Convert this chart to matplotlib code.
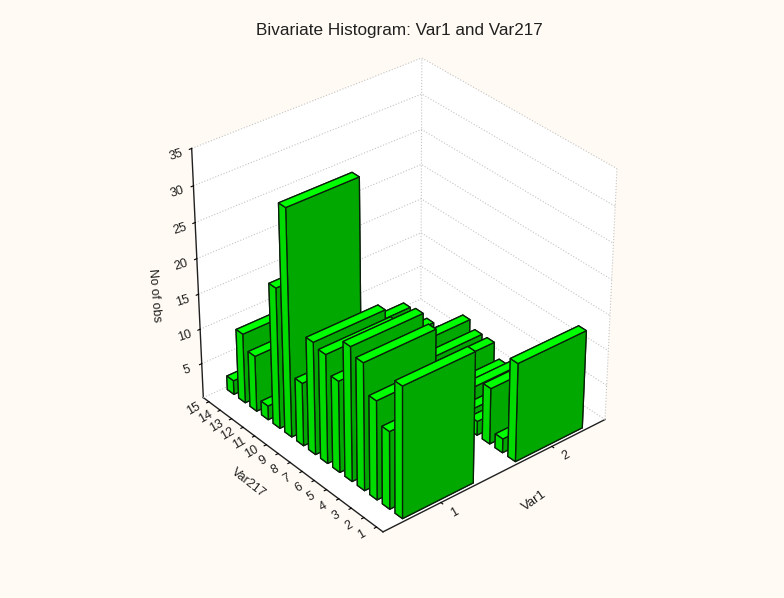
import matplotlib
matplotlib.use('Agg')
import matplotlib.pyplot as plt
from mpl_toolkits.mplot3d import proj3d

BG = '#FFFAF3'
GRID = '#c4c4c4'
INK = '#202020'
FONT = 'Liberation Sans'

var217 = list(range(1, 16))
var1_levels = [1, 2]
# counts per Var217 class
counts_var1_1 = [18.5, 11, 14, 18, 19, 13, 15.5, 16, 9, 32, 20, 2, 8, 10, 2]
counts_var1_2 = [14, 2, 8, 2, 2, 3, 2, 4, 4, 5, 2, 1, 1, 1, 1]
zticks = [5, 10, 15, 20, 25, 30, 35]

x_lo, x_hi = 0.5, 2.5
y_lo, y_hi = 0.5, 15.5
z_lo, z_hi = 0, 35

fig = plt.figure(figsize=(7.84, 5.98), dpi=100, facecolor=BG)
ax = fig.add_subplot(projection='3d', computed_zorder=False)

# camera fitted to the corners of the box in the reference
s = 495.46
cx, cy = 396.36, 293.74
ax.set_position([(cx - s / 2) / 784, (598 - cy - s / 2) / 598, s / 784, s / 598])
ax.view_init(elev=32.77, azim=-129.62)
ax.set_proj_type('persp', focal_length=1.0533)
ax.set_box_aspect((0.9876, 0.9881, 1))
ax.set_facecolor(BG)

ax.set_xlim(x_lo, x_hi)
ax.set_ylim(y_lo, y_hi)
ax.set_zlim(z_lo, z_hi)

# bars, far row first and back to front inside a row
bar_w = 0.62
bar_t = 0.58
face_colors = ['#00a800', '#00ff00', '#00a800', '#00a800', '#00dc00', '#00dc00']
z = 1
for level, counts in zip(var1_levels[::-1], [counts_var1_2, counts_var1_1]):
    for pos, h in zip(var217[::-1], counts[::-1]):
        ax.bar3d(level - bar_w / 2, pos - bar_t / 2, 0, bar_w, bar_t, h,
                 color=face_colors, edgecolor='#0a200a', linewidth=0.95,
                 shade=False, zorder=z)
        z += 1

# walls
for axis in (ax.xaxis, ax.yaxis, ax.zaxis):
    axis.set_pane_color('white')
    axis.pane.set_edgecolor('none')
    axis.line.set_color(INK)
    axis.line.set_linewidth(1.0)
    axis._axinfo['tick']['inward_factor'] = 0.12
    axis._axinfo['tick']['outward_factor'] = 0.0
    axis._axinfo['tick']['color'] = '#303030'
    axis._axinfo['tick']['linewidth'] = {True: 0.8, False: 0.5}

ax.xaxis._axinfo['grid'].update(linewidth=0)
ax.yaxis._axinfo['grid'].update(linewidth=0)
ax.zaxis._axinfo['grid'].update(color=GRID, linewidth=0.8, linestyle=':')

# dotted frame of the walls
frame_style = dict(color=GRID, linewidth=0.8, linestyle=':', zorder=0)
ax.plot([x_hi, x_hi], [y_lo, y_lo], [z_lo, z_hi], **frame_style)
ax.plot([x_hi, x_hi], [y_hi, y_hi], [z_lo, z_hi], **frame_style)
ax.plot([x_hi, x_hi], [y_lo, y_hi], [z_lo, z_lo], **frame_style)
ax.plot([x_lo, x_hi], [y_hi, y_hi], [z_lo, z_lo], **frame_style)

ax.set_xticks(var1_levels)
ax.set_yticks(var217)
ax.set_zticks(zticks)
ax.set_xticklabels([])
ax.set_yticklabels([])
ax.set_zticklabels([])


def label_at(x, y, z, text, rotation):
    # tick labels sit beside the edges, turned like the edges they belong to
    px, py, _ = proj3d.proj_transform(x, y, z, ax.get_proj())
    ax.text2D(px, py, text, transform=ax.transData, rotation=rotation, fontfamily=FONT,
              fontsize=9, color=INK, ha='center', va='center')


for level in var1_levels:
    label_at(level, y_lo - 1.07, z_lo, str(level), 30)
for pos in var217:
    label_at(x_lo - 0.13, pos, z_lo, str(pos), 30)
for tick in zticks:
    label_at(x_lo - 0.13, y_hi, tick, str(tick), 18)

title_style = dict(transform=fig.transFigure, fontfamily=FONT, color=INK, ha='center', va='center')
ax.text2D(534 / 784, 1 - 501 / 598, 'Var1', rotation=35, fontsize=9.5, **title_style)
ax.text2D(248 / 784, 1 - 483 / 598, 'Var217', rotation=-38, fontsize=9, **title_style)
ax.text2D(154 / 784, 1 - 295 / 598, 'No of obs', rotation=-85, fontsize=9, **title_style)

fig.text(399.5 / 784, 1 - 30 / 598, 'Bivariate Histogram: Var1 and Var217', ha='center', va='center',
         fontfamily=FONT, fontsize=12.3, color=INK)

fig.savefig('out.png', dpi=100, facecolor=BG)
